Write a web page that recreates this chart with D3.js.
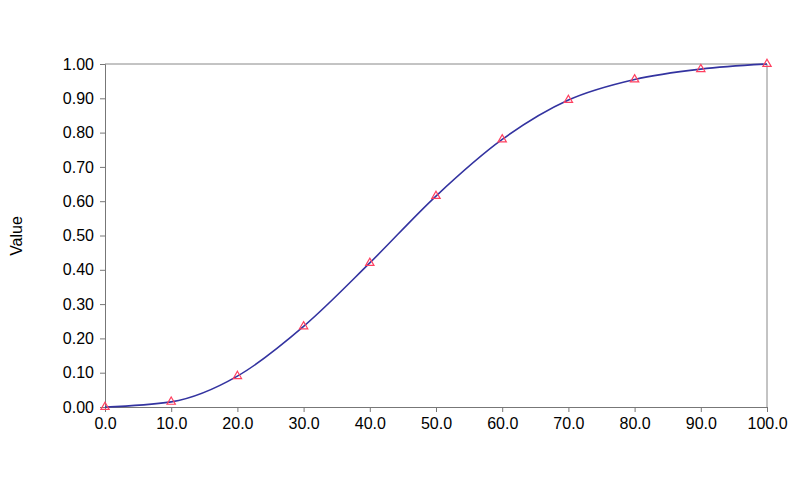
<!DOCTYPE html><html><head><script src="https://cdn.jsdelivr.net/npm/d3@7"></script>
<style>body{margin:0;background:#fff}</style></head><body><svg id="c" width="805" height="492"></svg>
<script>
const xs=[0,10,20,30,40,50,60,70,80,90,100];
const vals=[0,0.015,0.09,0.235,0.42,0.615,0.78,0.895,0.955,0.985,1.0];
const xTicks=[0,10,20,30,40,50,60,70,80,90,100];
const yTicks=[0,0.1,0.2,0.3,0.4,0.5,0.6,0.7,0.8,0.9,1.0];
const svg=d3.select("#c");
const x=d3.scaleLinear().domain([0,100]).range([105,767]);
const y=d3.scaleLinear().domain([0,1]).range([407,64]);
svg.append("line").attr("x1",105).attr("x2",767).attr("y1",64).attr("y2",64).attr("stroke","#888");
svg.append("line").attr("x1",767).attr("x2",767).attr("y1",64).attr("y2",407).attr("stroke","#888");
const f="Arial, Liberation Sans, sans-serif";
const gx=svg.append("g").attr("transform","translate(0,407)").call(d3.axisBottom(x).tickValues(xTicks).tickFormat(d3.format(".1f")).tickSize(5).tickPadding(6));
const gy=svg.append("g").attr("transform","translate(105,0)").call(d3.axisLeft(y).tickValues(yTicks).tickFormat(d3.format(".2f")).tickSize(5).tickPadding(6));
[gx,gy].forEach(g=>{g.selectAll("path,line").attr("stroke","#777");g.selectAll("text").attr("font-family",f).attr("font-size",16).attr("fill","#000");});
svg.append("text").attr("transform","translate(22,236) rotate(-90)").attr("text-anchor","middle").attr("font-family",f).attr("font-size",16).text("Value");
const data=xs.map((d,i)=>[d,vals[i]]);
svg.append("path").datum(data).attr("fill","none").attr("stroke","#3333a0").attr("stroke-width",1.6)
 .attr("d",d3.line().x(d=>x(d[0])).y(d=>y(d[1])).curve(d3.curveMonotoneX));
svg.selectAll(".m").data(data).join("path").attr("transform",d=>`translate(${x(d[0])},${y(d[1])})`)
 .attr("d",d3.symbol(d3.symbolTriangle,30)).attr("fill","none").attr("stroke","#ff4060").attr("stroke-width",1.2);
</script></body></html>
